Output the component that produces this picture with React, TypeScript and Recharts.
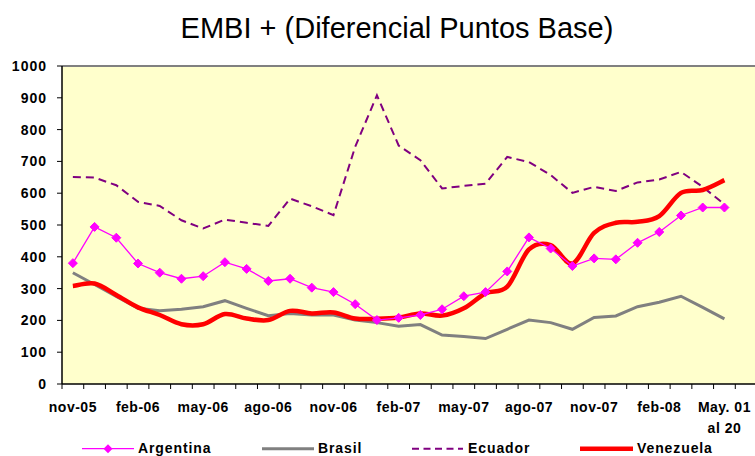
import { LineChart, Line, XAxis, YAxis, CartesianGrid, ReferenceLine } from "recharts";

// monthly points, nov-05 .. may-08 (last one is "May. 01 al 20")
const MONTHS = [
  "nov-05", "dic-05", "ene-06", "feb-06", "mar-06", "abr-06", "may-06", "jun-06",
  "jul-06", "ago-06", "sep-06", "oct-06", "nov-06", "dic-06", "ene-07", "feb-07",
  "mar-07", "abr-07", "may-07", "jun-07", "jul-07", "ago-07", "sep-07", "oct-07",
  "nov-07", "dic-07", "ene-08", "feb-08", "mar-08", "abr-08", "May. 01\nal 20",
];

const ARGENTINA = [
  380, 494, 460, 379, 350, 331, 339, 383, 362, 324, 331, 303, 289, 251, 201, 208,
  217, 235, 276, 289, 354, 461, 426, 371, 395, 392, 444, 478, 530, 555, 555,
];
const BRASIL = [
  350, 313, 275, 238, 230, 235, 243, 262, 238, 215, 222, 217, 217, 201, 193, 182,
  187, 154, 149, 143, 172, 201, 193, 172, 209, 214, 243, 257, 276, 241, 205,
];
const ECUADOR = [
  651, 649, 625, 573, 560, 515, 489, 517, 507, 497, 583, 559, 531, 746, 908, 750,
  704, 615, 623, 630, 714, 698, 657, 601, 620, 607, 634, 643, 667, 620, 565,
];
const VENEZUELA = [
  308, 316, 280, 241, 217, 188, 188, 220, 206, 201, 230, 222, 225, 206, 205, 209,
  222, 215, 238, 285, 306, 423, 437, 379, 475, 507, 510, 528, 601, 610, 641,
];

const Y_TICKS = [0, 100, 200, 300, 400, 500, 600, 700, 800, 900, 1000];

// one extra empty category on the right, as in the original plot area
const data = [...MONTHS, ""].map((month, i) => ({
  month,
  argentina: ARGENTINA[i],
  brasil: BRASIL[i],
  ecuador: ECUADOR[i],
  venezuela: VENEZUELA[i],
}));

const FONT = "'Liberation Sans', Arial, Helvetica, sans-serif";
const CHART_W = 760;
const Y_AXIS_W = 62;
const RIGHT_MARGIN = 3;
const BAND = (CHART_W - Y_AXIS_W - RIGHT_MARGIN) / data.length;

// Excel-style smoothed line (uniform Catmull-Rom as cubic beziers)
function excelSmooth(context: any) {
  let pts: [number, number][] = [];
  return {
    areaStart() {},
    areaEnd() {},
    lineStart() {
      pts = [];
    },
    point(x: number, y: number) {
      pts.push([+x, +y]);
    },
    lineEnd() {
      if (!pts.length) return;
      context.moveTo(pts[0][0], pts[0][1]);
      for (let i = 0; i < pts.length - 1; i++) {
        const p0 = pts[Math.max(0, i - 1)];
        const p1 = pts[i];
        const p2 = pts[i + 1];
        const p3 = pts[Math.min(pts.length - 1, i + 2)];
        context.bezierCurveTo(
          p1[0] + (p2[0] - p0[0]) / 6,
          p1[1] + (p2[1] - p0[1]) / 6,
          p2[0] - (p3[0] - p1[0]) / 6,
          p2[1] - (p3[1] - p1[1]) / 6,
          p2[0],
          p2[1]
        );
      }
    },
  };
}

function MonthTick(props: any) {
  const { x, y, payload, index } = props;
  const label: string = payload.value ?? "";
  const lines = index % 3 === 0 && label ? label.split("\n") : [];
  return (
    <g>
      <line x1={x - BAND / 2} y1={y} x2={x - BAND / 2} y2={y + 5} stroke="#000" strokeWidth={1} />
      {lines.map((t, k) => (
        <text
          key={k}
          x={x}
          y={y + 27.5 + k * 21.7}
          textAnchor="middle"
          fontFamily={FONT}
          fontWeight="bold"
          fontSize={14}
          letterSpacing={0.5}
          fill="#000"
        >
          {t}
        </text>
      ))}
    </g>
  );
}

function ValueTick(props: any) {
  const { x, y, payload } = props;
  return (
    <text
      x={x}
      y={y + 5}
      textAnchor="end"
      fontFamily={FONT}
      fontWeight="bold"
      fontSize={14}
      letterSpacing={1}
      fill="#000"
    >
      {payload.value}
    </text>
  );
}

function Diamond(props: any) {
  const { cx, cy } = props;
  if (cx == null || cy == null) return null;
  const r = 4.5;
  return (
    <polygon
      points={`${cx},${cy - r} ${cx + r},${cy} ${cx},${cy + r} ${cx - r},${cy}`}
      fill="#ff00ff"
      stroke="#ff00ff"
    />
  );
}

const legendText = {
  fontFamily: FONT,
  fontWeight: "bold" as const,
  fontSize: 14,
  letterSpacing: 0.9,
};

export default function App() {
  return (
    <div
      style={{
        position: "absolute",
        left: 0,
        top: 0,
        width: 755,
        height: 456,
        overflow: "hidden",
        background: "#fff",
      }}
    >
      <svg width={755} height={60} style={{ position: "absolute", left: 0, top: 0 }}>
        <text x={397} y={38} textAnchor="middle" fontFamily={FONT} fontSize={29} fill="#000">
          EMBI + (Diferencial Puntos Base)
        </text>
      </svg>

      <LineChart
        width={CHART_W}
        height={456}
        data={data}
        margin={{ top: 66, right: RIGHT_MARGIN, left: 0, bottom: 0 }}
      >
        <CartesianGrid horizontal={false} vertical={false} fill="#ffffcc" />
        <XAxis
          dataKey="month"
          interval={0}
          height={72}
          padding={{ left: BAND / 2, right: BAND / 2 }}
          tickSize={0}
          tickMargin={0}
          tickLine={false}
          axisLine={{ stroke: "#000", strokeWidth: 1.5 }}
          tick={<MonthTick />}
        />
        <YAxis
          width={Y_AXIS_W}
          domain={[0, 1000]}
          ticks={Y_TICKS}
          interval={0}
          tickSize={5}
          tickMargin={10}
          axisLine={{ stroke: "#000", strokeWidth: 1.5 }}
          tickLine={{ stroke: "#000" }}
          tick={<ValueTick />}
        />
        <ReferenceLine y={1000} stroke="#808080" strokeWidth={2} />
        <Line
          dataKey="brasil"
          stroke="#808080"
          strokeWidth={3}
          dot={false}
          isAnimationActive={false}
        />
        <Line
          dataKey="ecuador"
          stroke="#800080"
          strokeWidth={2}
          strokeDasharray="8 5"
          dot={false}
          isAnimationActive={false}
        />
        <Line
          type={excelSmooth as any}
          dataKey="venezuela"
          stroke="#ff0000"
          strokeWidth={4.5}
          dot={false}
          isAnimationActive={false}
        />
        <Line
          dataKey="argentina"
          stroke="#ff00ff"
          strokeWidth={1.3}
          dot={<Diamond />}
          isAnimationActive={false}
        />
      </LineChart>

      <svg width={755} height={30} style={{ position: "absolute", left: 0, top: 426 }}>
        <line x1={82} y1={22.7} x2={134} y2={22.7} stroke="#ff00ff" strokeWidth={1.3} />
        <polygon points="108,18.2 112.5,22.7 108,27.2 103.5,22.7" fill="#ff00ff" />
        <text x={138} y={26.5} {...legendText}>Argentina</text>

        <line x1={262} y1={22.7} x2={314} y2={22.7} stroke="#808080" strokeWidth={3} />
        <text x={318} y={26.5} {...legendText}>Brasil</text>

        <line x1={412} y1={22.7} x2={463} y2={22.7} stroke="#800080" strokeWidth={2} strokeDasharray="7 4.5" />
        <text x={468} y={26.5} {...legendText}>Ecuador</text>

        <line x1={580} y1={22.7} x2={633} y2={22.7} stroke="#ff0000" strokeWidth={4.5} />
        <text x={637} y={26.5} {...legendText}>Venezuela</text>
      </svg>
    </div>
  );
}
